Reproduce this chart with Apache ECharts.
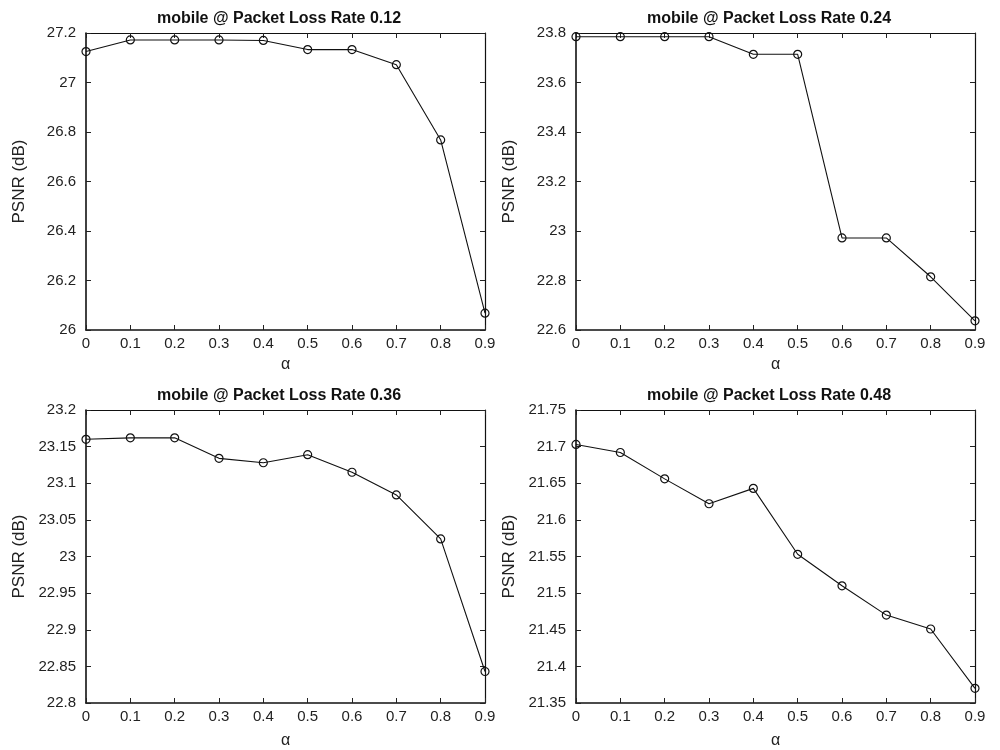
<!DOCTYPE html>
<html>
<head>
<meta charset="utf-8">
<script src="https://cdn.jsdelivr.net/npm/echarts@6/dist/echarts.min.js"></script>
<style>html,body{margin:0;padding:0;background:#fff}#c{width:1000px;height:750px}</style>
</head>
<body>
<div id="c"></div>
<script>
// ---- data ----
const alpha = [0, 0.1, 0.2, 0.3, 0.4, 0.5, 0.6, 0.7, 0.8, 0.9];
const titles = [
  'mobile @ Packet Loss Rate 0.12',
  'mobile @ Packet Loss Rate 0.24',
  'mobile @ Packet Loss Rate 0.36',
  'mobile @ Packet Loss Rate 0.48'
];
const psnr012 = [27.125, 27.172, 27.172, 27.172, 27.170, 27.133, 27.133, 27.072, 26.768, 26.068];
const psnr024 = [23.785, 23.785, 23.785, 23.785, 23.714, 23.714, 22.972, 22.972, 22.815, 22.637];
const psnr036 = [23.160, 23.162, 23.162, 23.134, 23.128, 23.139, 23.115, 23.084, 23.024, 22.843];
const psnr048 = [21.703, 21.692, 21.656, 21.622, 21.643, 21.553, 21.510, 21.470, 21.451, 21.370];
const yRanges = [[26, 27.2, 0.2], [22.6, 23.8, 0.2], [22.8, 23.2, 0.05], [21.35, 21.75, 0.05]];
const xName = 'α';
const yName = 'PSNR (dB)';

// ---- layout ----
const FONT = 'Liberation Sans, Arial, Helvetica, sans-serif';
const grids = [
  {left: 86, top: 33, width: 399, height: 297},
  {left: 576, top: 33, width: 399, height: 297},
  {left: 86, top: 410, width: 399, height: 297},
  {left: 576, top: 410, width: 399, height: 297}
];
const titlePos = [[274, 6], [764, 6], [274, 383], [764, 383]];
const xNameGap = [27, 27, 30, 30];
const seriesData = [psnr012, psnr024, psnr036, psnr048];

const option = {
  backgroundColor: '#fff',
  animation: false,
  title: [], grid: [], xAxis: [], yAxis: [], series: []
};

grids.forEach((g, i) => {
  option.grid.push(Object.assign({containLabel: false}, g));
  option.title.push({
    text: titles[i], left: titlePos[i][0], top: titlePos[i][1], textAlign: 'center',
    textStyle: {fontFamily: FONT, fontSize: 16, fontWeight: 'bold', color: '#111'}
  });
  const tickX = {show: true, inside: true, length: 5, lineStyle: {color: '#222', width: 1}};
  // bottom x
  option.xAxis.push({
    type: 'value', gridIndex: i, position: 'bottom', min: 0, max: 0.9, interval: 0.1,
    name: xName, nameLocation: 'middle', nameGap: xNameGap[i],
    nameTextStyle: {fontFamily: FONT, fontSize: 16, color: '#222'},
    axisLine: {show: true, onZero: false, lineStyle: {color: '#111', width: 1.6}},
    axisTick: tickX, splitLine: {show: false},
    axisLabel: {fontFamily: FONT, fontSize: 15, color: '#222', margin: 6}
  });
  // top x (ticks only)
  option.xAxis.push({
    type: 'value', gridIndex: i, position: 'top', min: 0, max: 0.9, interval: 0.1,
    axisLine: {show: true, onZero: false, lineStyle: {color: '#111', width: 1.2}},
    axisTick: tickX, splitLine: {show: false}, axisLabel: {show: false}
  });
  const r = yRanges[i];
  option.yAxis.push({
    type: 'value', gridIndex: i, position: 'left', min: r[0], max: r[1], interval: r[2],
    name: yName, nameLocation: 'middle', nameGap: 58, nameRotate: 90,
    nameTextStyle: {fontFamily: FONT, fontSize: 17, color: '#222'},
    axisLine: {show: true, onZero: false, lineStyle: {color: '#111', width: 1.6}},
    axisTick: tickX, splitLine: {show: false},
    axisLabel: {fontFamily: FONT, fontSize: 15, color: '#222', margin: 10}
  });
  option.yAxis.push({
    type: 'value', gridIndex: i, position: 'right', min: r[0], max: r[1], interval: r[2],
    axisLine: {show: true, onZero: false, lineStyle: {color: '#111', width: 1.2}},
    axisTick: tickX, splitLine: {show: false}, axisLabel: {show: false}
  });
  option.series.push({
    type: 'line', xAxisIndex: 2 * i, yAxisIndex: 2 * i,
    data: alpha.map((a, k) => [a, seriesData[i][k]]),
    symbol: 'circle', symbolSize: 8, showSymbol: true,
    lineStyle: {color: '#111', width: 1.1},
    itemStyle: {color: 'rgba(255,255,255,0)', borderColor: '#111', borderWidth: 1.2},
    clip: false
  });
});

const chart = echarts.init(document.getElementById('c'), null, {renderer: 'canvas'});
chart.setOption(option);
</script>
</body>
</html>
